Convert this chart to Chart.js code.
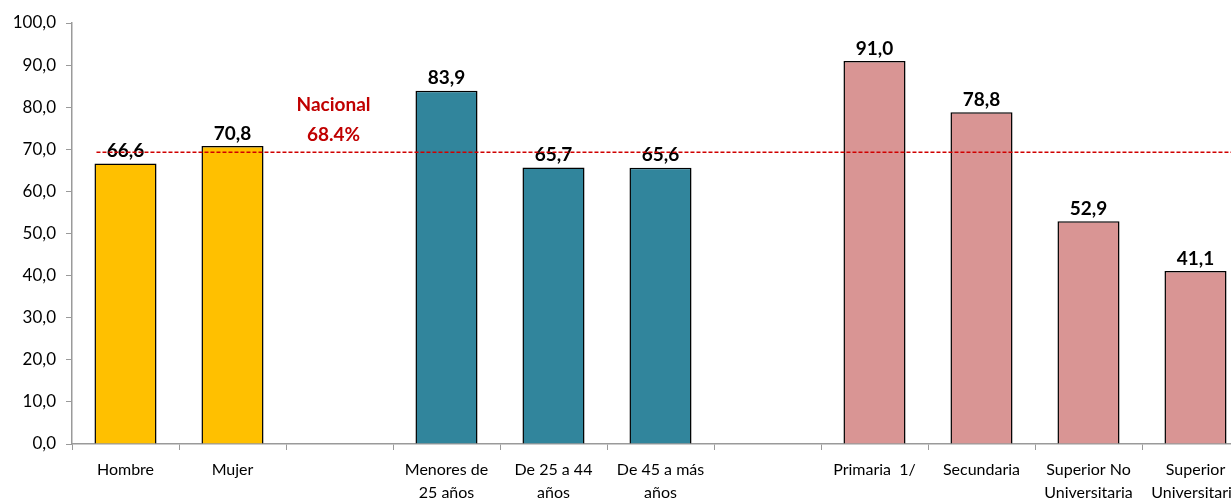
<!DOCTYPE html>
<html>
<head>
<meta charset="utf-8">
<script src="https://cdn.jsdelivr.net/npm/chart.js@4.4.1/dist/chart.umd.min.js"></script>
<style>
  html, body { margin: 0; padding: 0; background: #fff; overflow: hidden; }
  #wrap { width: 1252px; height: 504px; }
</style>
</head>
<body>
<div id="wrap"><canvas id="bar-chart"></canvas></div>
<script>
const categories = [
    'Hombre', 'Mujer', '',
    ['Menores de', '25 años'], ['De 25 a 44', 'años'], ['De 45 a más', 'años'], '',
    'Primaria  1/', 'Secundaria', ['Superior No', 'Universitaria'], ['Superior', 'Universitaria']
];
const values = [66.6, 70.8, null, 83.9, 65.7, 65.6, null, 91.0, 78.8, 52.9, 41.1];
const barColors = ['#FFC000', '#FFC000', '#FFC000', '#31859C', '#31859C', '#31859C', '#31859C',
    '#D99594', '#D99594', '#D99594', '#D99594'];
const yTicks = [0, 10, 20, 30, 40, 50, 60, 70, 80, 90, 100];
const nacionalLevel = 69.3;   // where the dashed line sits in the picture
const nacionalText = ['Nacional', '68.4%'];

const FONT = 'Lato, "Open Sans", sans-serif';

function fmt(v) {
    return v.toFixed(1).replace('.', ',');
}

// values on top of the bars + the dashed "Nacional" line
const overlay = {
    id: 'overlay',
    afterDatasetsDraw(chart) {
        const c = chart.ctx;
        const xs = chart.scales.x;
        const ys = chart.scales.y;
        const meta = chart.getDatasetMeta(0);

        c.save();
        c.font = 'bold 19px ' + FONT;
        c.fillStyle = '#000';
        c.textAlign = 'center';
        c.textBaseline = 'bottom';
        meta.data.forEach((bar, i) => {
            if (values[i] === null) return;
            c.fillText(fmt(values[i]), bar.x, bar.y - 3);
        });

        // dashed line
        const ly = ys.getPixelForValue(nacionalLevel);
        const first = meta.data[0];
        c.strokeStyle = '#D00000';
        c.lineWidth = 1.3;
        c.setLineDash([4, 2]);
        c.beginPath();
        c.moveTo(first.x - first.width / 2 + 2, ly);
        c.lineTo(xs.getPixelForValue(10) + 36, ly);
        c.stroke();
        c.setLineDash([]);

        // label
        const lx = xs.getPixelForValue(2) - 6;
        c.fillStyle = '#C00000';
        c.textBaseline = 'middle';
        c.fillText(nacionalText[0], lx, ys.getPixelForValue(80.6));
        c.fillText(nacionalText[1], lx, ys.getPixelForValue(73.5));
        c.restore();
    }
};

const ctx = document.getElementById('bar-chart');

new Chart(ctx, {
    type: 'bar',
    data: {
        labels: categories,
        datasets: [{
            data: values,
            backgroundColor: barColors,
            borderColor: '#000',
            borderWidth: 1.5,
            barPercentage: 0.58,
            categoryPercentage: 1
        }]
    },
    options: {
        responsive: true,
        maintainAspectRatio: false,
        animation: false,
        layout: { padding: { top: 23, right: 3, left: 0, bottom: 4 } },
        plugins: {
            legend: { display: false },
            tooltip: { enabled: false }
        },
        scales: {
            x: {
                offset: true,
                afterFit(scale) {
                    scale.height = 56;
                },
                grid: {
                    display: true,
                    drawOnChartArea: false,
                    offset: true,
                    color: '#9a9a9a',
                    tickLength: 6
                },
                border: { color: '#9a9a9a', width: 1.5 },
                ticks: {
                    color: '#000',
                    font: { family: FONT, size: 16, lineHeight: 1.45 },
                    maxRotation: 0,
                    autoSkip: false,
                    padding: 8
                }
            },
            y: {
                min: 0,
                max: 100,
                afterBuildTicks(scale) {
                    scale.ticks = yTicks.map(v => ({ value: v }));
                },
                afterFit(scale) {
                    scale.width = 72;
                },
                grid: {
                    display: true,
                    drawOnChartArea: false,
                    color: '#9a9a9a',
                    tickLength: 6
                },
                border: { color: '#9a9a9a', width: 1.5 },
                ticks: {
                    color: '#000',
                    font: { family: FONT, size: 17 },
                    padding: 10,
                    callback: v => fmt(v)
                }
            }
        }
    },
    plugins: [overlay]
});
</script>
</body>
</html>
